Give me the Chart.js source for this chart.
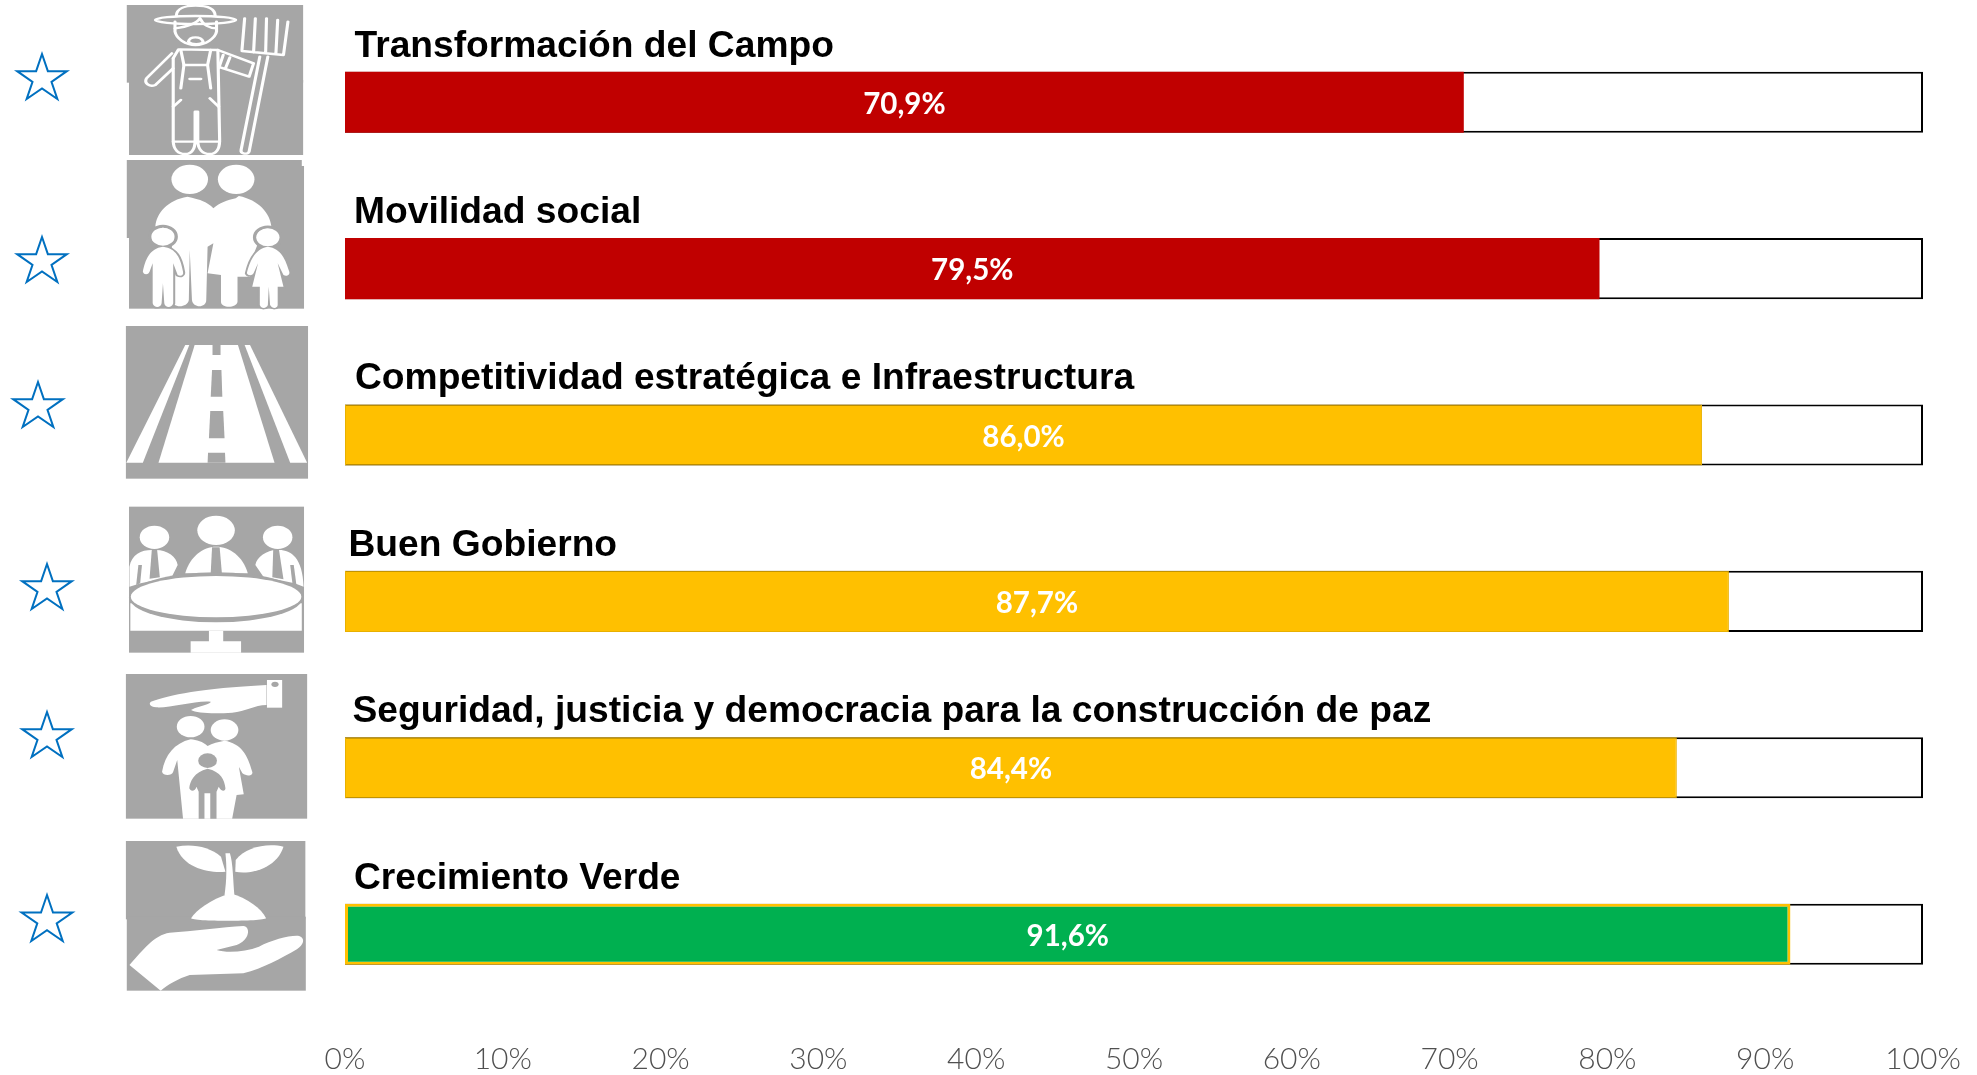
<!DOCTYPE html>
<html lang="es">
<head>
<meta charset="utf-8">
<style>html,body{margin:0;padding:0;background:#fff}canvas{display:block}</style>
<script src="https://cdn.jsdelivr.net/npm/chart.js@4"></script>
</head>
<body>
<canvas id="c" width="1977" height="1075"></canvas>
<script>
const categories = ["Transformación del Campo","Movilidad social","Competitividad estratégica e Infraestructura","Buen Gobierno","Seguridad, justicia y democracia para la construcción de paz","Crecimiento Verde"];
const values = [70.9,79.5,86.0,87.7,84.4,91.6];
const valueLabels = ["70,9%","79,5%","86,0%","87,7%","84,4%","91,6%"];
const trackValues = [100,100,100,100,100,100];
const barColors = ["#C00000","#C00000","#FFC000","#FFC000","#FFC000","#00B050"];
const barBorders = ["#C00000","#C00000","#E8B000","#E8B000","#E8B000","#FFC000"];
const barBorderWidths = [0,0,1,1,1,3];
const tickLabels = ["0%","10%","20%","30%","40%","50%","60%","70%","80%","90%","100%"];

const titleX = [354.5,354,355,348.5,352.5,354];
const GRAY = "#A6A6A6";
const stars = [[42,54,99],[42,237,282],[38,382,427],[47,564,609],[47,712,757],[47,895,941]];
const sx = 1/2.24, sy = 1/3;

function crop(ctx, ox, oy, fn){ ctx.save(); ctx.translate(ox,oy); ctx.scale(sx,sy); fn(); ctx.restore(); }
function fillP(ctx, d, c){ ctx.fillStyle = c||"#fff"; ctx.fill(new Path2D(d)); }
function oval(ctx,x,y,rx,ry,c){ ctx.fillStyle=c||"#fff"; ctx.beginPath(); ctx.ellipse(x,y,rx,ry,0,0,Math.PI*2); ctx.fill(); }
function box(ctx,x0,y0,x1,y1,c){ ctx.fillStyle=c||GRAY; ctx.fillRect(x0,y0,x1-x0,y1-y0); }

function drawIcons(ctx){
  // farmer
  crop(ctx,0,0,()=>{
    box(ctx,284,15,679,248); box(ctx,289,240,679,465);
    ctx.strokeStyle="#fff"; ctx.lineWidth=7; ctx.lineJoin="round"; ctx.lineCap="round";
    ctx.beginPath(); ctx.ellipse(438,60,90,12,0,0,Math.PI*2); ctx.stroke();
    [
     "M395 48 C395 25 415 17 438 17 C462 17 482 25 482 48",
     "M392 65 L392 95 C395 115 415 135 438 135 C460 135 482 115 485 95 L485 65",
     "M392 85 C420 80 440 70 448 55 C455 75 470 85 485 85",
     "M422 125 C425 108 450 108 455 125 C452 135 428 135 422 125 Z",
     "M388 175 L400 148 L488 150 L568 190 L558 230 L495 203",
     "M385 160 L328 235 C322 250 335 262 348 255 L388 205",
     "M388 175 L388 420 C388 450 400 462 415 462 C432 462 437 445 437 420 L437 335 L443 335 L443 420 C443 450 455 462 470 462 C485 462 492 445 492 420 L488 150",
     "M405 150 L412 195 L465 195 L472 150",
     "M412 195 L405 265 M465 195 L472 265 M425 237 L450 237 M388 320 L405 300 M490 320 L470 295",
     "M388 425 L437 425 M443 425 L492 425",
     "M582 170 L540 450 C538 462 555 465 558 455 L600 170",
     "M542 150 L548 55 M572 55 L568 158 M597 55 L595 160 M622 60 L618 162 M645 65 L635 165 L542 153",
     "M500 165 L490 205 M515 172 L505 205"
    ].forEach(d=>ctx.stroke(new Path2D(d)));
  });
  // family
  crop(ctx,0,0,()=>{
    box(ctx,284,480,676,714); box(ctx,289,498,681,926);
    oval(ctx,425,538,41,44); oval(ctx,529,538,41,44);
    fillP(ctx,"M420 590 C375 600 350 640 348 680 L385 700 L385 900 C385 925 420 925 423 900 L425 750 L430 900 C432 925 462 925 462 900 L465 740 L478 730 L465 820 L495 825 L495 905 C495 925 530 925 532 905 L532 830 L560 830 L560 790 L590 690 L608 680 C605 640 580 600 535 588 L528 595 C510 600 490 610 478 625 C465 605 445 598 430 593 Z");
    const k1="M365 740 C335 745 325 780 320 815 C322 825 332 825 335 815 L342 790 L342 910 C345 925 360 925 362 910 L365 850 L368 910 C370 925 385 925 388 910 L388 790 L398 825 C405 830 412 825 410 815 C405 775 395 745 365 740 Z";
    const k2="M600 740 C570 745 558 790 553 820 C555 828 565 828 568 820 L578 790 L565 860 L582 860 L582 915 C585 928 598 925 600 915 L602 860 L605 915 C610 928 622 925 622 915 L622 860 L635 860 L622 790 L635 825 C642 830 650 825 648 815 C640 780 630 745 600 740 Z";
    ctx.strokeStyle=GRAY; ctx.lineWidth=9;
    [k1,k2].forEach(d=>ctx.stroke(new Path2D(d)));
    ctx.beginPath(); ctx.ellipse(365,710,29,31,0,0,Math.PI*2); ctx.stroke();
    ctx.beginPath(); ctx.ellipse(600,712,29,31,0,0,Math.PI*2); ctx.stroke();
    oval(ctx,365,710,26,27); oval(ctx,600,712,26,27);
    fillP(ctx,k1); fillP(ctx,k2);
  });
  // road
  crop(ctx,0,320,()=>{
    box(ctx,282,18,690,476);
    fillP(ctx,"M415 75 L424 75 L320 428 L283 428 Z");
    fillP(ctx,"M548 75 L560 75 L688 428 L650 428 Z");
    fillP(ctx,"M436 75 L533 75 L615 428 L355 428 Z");
    fillP(ctx,"M476 75 L494 75 L494 105 L476 105 Z",GRAY);
    fillP(ctx,"M475 150 L496 150 L498 230 L472 230 Z",GRAY);
    fillP(ctx,"M471 273 L500 273 L503 355 L468 355 Z",GRAY);
    fillP(ctx,"M466 398 L504 398 L505 428 L465 428 Z",GRAY);
  });
  // meeting
  crop(ctx,0,320,()=>{
    box(ctx,289,560,681,998);
    oval(ctx,346,652,33,35); oval(ctx,484,631,42,44); oval(ctx,622,652,33,35);
    fillP(ctx,"M290 800 L290 740 C295 700 320 688 345 690 C375 688 395 710 398 735 L385 770 L315 790 Z");
    fillP(ctx,"M415 760 C425 710 455 680 484 680 C515 680 545 710 555 760 Z");
    fillP(ctx,"M572 735 C575 710 600 688 622 690 C650 688 678 710 680 800 L660 790 L590 770 Z");
    fillP(ctx,"M340 690 L352 690 L358 772 L335 776 Z",GRAY);
    fillP(ctx,"M475 682 L492 682 L497 760 L472 760 Z",GRAY);
    fillP(ctx,"M612 690 L625 690 L635 778 L610 772 Z",GRAY);
    fillP(ctx,"M310 735 L318 735 L314 790 L305 795 Z",GRAY);
    fillP(ctx,"M650 735 L658 735 L664 795 L655 790 Z",GRAY);
    fillP(ctx,"M292 850 L676 850 L676 932 L292 932 Z");
    oval(ctx,484,832,195,75,GRAY);
    oval(ctx,484,830,191,62);
    fillP(ctx,"M468 932 L500 932 L500 964 L540 964 L540 998 L427 998 L427 964 L468 964 Z");
  });
  // security
  crop(ctx,0,660,()=>{
    box(ctx,282,42,688,476);
    fillP(ctx,"M338 125 C380 105 450 85 597 75 L597 135 C570 135 550 155 520 158 C480 162 440 160 428 150 C438 140 472 134 472 125 C440 120 380 145 350 142 C335 140 333 130 338 125 Z");
    box(ctx,598,60,632,143,"#fff"); oval(ctx,616,73,8,8,GRAY);
    oval(ctx,427,200,31,32); oval(ctx,503,210,31,32);
    fillP(ctx,"M427 238 C390 250 370 285 363 335 C365 348 385 348 388 335 L397 300 L410 476 L520 476 L530 405 L546 403 L535 320 L543 340 C555 352 568 345 565 335 C555 285 540 250 503 242 C490 245 475 250 465 258 C455 245 440 240 427 238 Z");
    oval(ctx,465,302,21,22,GRAY);
    fillP(ctx,"M465 326 C435 335 425 365 424 385 C428 398 438 392 440 380 L445 395 L445 476 L458 476 L458 400 L471 400 L471 476 L485 476 L485 395 L490 380 C495 395 505 395 505 385 C503 360 495 335 465 326 Z",GRAY);
  });
  // plant
  crop(ctx,0,660,()=>{
    box(ctx,282,543,684,778); box(ctx,284,770,685,992);
    fillP(ctx,"M395 560 C430 550 470 560 495 590 L505 635 C470 640 410 625 395 560 Z");
    fillP(ctx,"M635 560 C600 548 550 560 528 600 L527 635 C560 645 620 625 635 560 Z");
    fillP(ctx,"M505 580 L515 580 C522 610 522 660 525 705 L503 705 C508 660 508 620 505 580 Z");
    fillP(ctx,"M515 700 C470 720 440 750 428 775 C430 785 590 785 596 775 C585 745 555 715 515 700 Z");
    fillP(ctx,"M290 915 C320 870 345 825 380 818 C430 815 500 800 545 798 C562 800 560 840 530 855 L485 870 C510 880 550 875 580 860 C610 840 650 825 670 828 C685 835 680 855 665 868 C630 895 590 925 545 940 L425 945 C400 955 375 975 360 992 Z");
  });
}
function drawStars(ctx){
  stars.forEach(([cx,top,bot])=>{
    const R=(bot-top)/(1+Math.cos(Math.PI/5)), r=R*0.382, cy=top+R;
    ctx.beginPath();
    for(let i=0;i<10;i++){
      const a=-Math.PI/2+i*Math.PI/5, q=i%2?r:R;
      const x=cx+1.05*q*Math.cos(a), y=cy+q*Math.sin(a);
      i?ctx.lineTo(x,y):ctx.moveTo(x,y);
    }
    ctx.closePath();
    ctx.fillStyle="#fff"; ctx.fill();
    ctx.strokeStyle="#0070C0"; ctx.lineWidth=2; ctx.lineJoin="miter"; ctx.stroke();
  });
}
const decor = {
  id:"decor",
  afterDatasetsDraw(chart){
    const ctx=chart.ctx;
    ctx.save();
    drawIcons(ctx);
    drawStars(ctx);
    const meta=chart.getDatasetMeta(1);
    const left=chart.scales.x.left;
    meta.data.forEach((bar,i)=>{
      const topY=bar.y-bar.height/2;
      ctx.fillStyle="#000"; ctx.textAlign="left"; ctx.textBaseline="alphabetic";
      ctx.font='bold 37.2px "Liberation Sans"';
      ctx.fillText(categories[i],titleX[i],topY-15);
      ctx.fillStyle="#fff"; ctx.textAlign="center"; ctx.textBaseline="middle";
      ctx.font='bold 29.5px Lato';
      ctx.fillText(valueLabels[i],(left+bar.x)/2,bar.y+2);
    });
    ctx.restore();
  }
};
new Chart(document.getElementById("c"),{
  type:"bar",
  data:{labels:categories,datasets:[
    {label:"Total",data:trackValues,backgroundColor:"#fff",borderColor:"#000",borderWidth:2,borderSkipped:false,order:2},
    {label:"Avance",data:values,backgroundColor:barColors,borderColor:barBorders,borderWidth:barBorderWidths,borderSkipped:false,order:1}
  ]},
  plugins:[decor],
  options:{
    indexAxis:"y",responsive:false,animation:false,
    devicePixelRatio:1,
    layout:{padding:{left:345,right:54,top:19,bottom:0}},
    datasets:{bar:{grouped:false,categoryPercentage:1,barPercentage:0.367}},
    plugins:{legend:{display:false},tooltip:{enabled:false},title:{display:false}},
    scales:{
      y:{display:false},
      x:{min:0,max:100,border:{display:false},
        afterFit(s){ s.paddingLeft=0; s.paddingRight=0; s.paddingTop=0; s.paddingBottom=0; s.height=57.6; },
        grid:{display:false,drawTicks:false},
        ticks:{stepSize:10,padding:27,maxRotation:0,autoSkip:false,color:"#505050",
          font:{family:"Lato",size:30,weight:"300",lineHeight:1},
          callback:(v,i)=>tickLabels[i]}}
    }
  }
});
</script>
</body>
</html>
